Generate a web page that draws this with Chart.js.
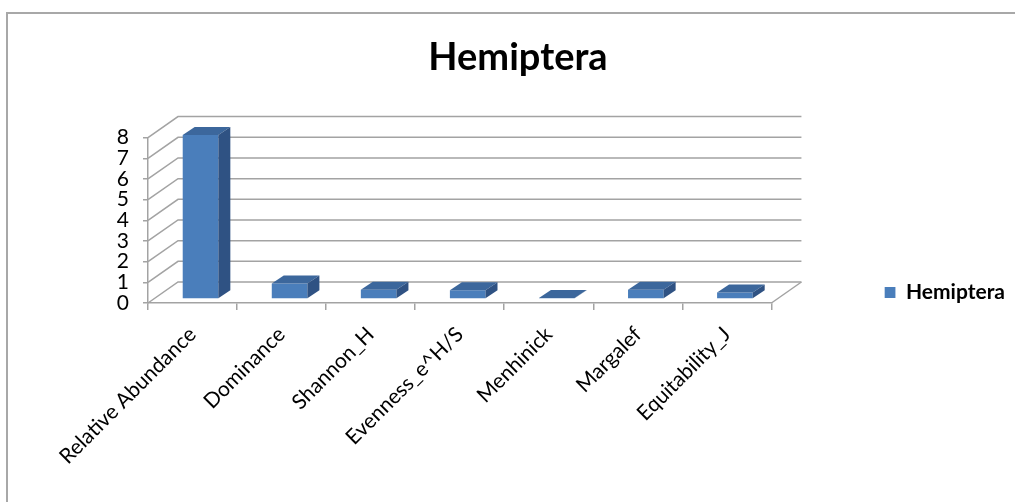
<!DOCTYPE html>
<html>
<head>
<meta charset="utf-8">
<script src="https://cdn.jsdelivr.net/npm/chart.js@4.4.1/dist/chart.umd.min.js"></script>
<style>
    html, body { margin: 0; padding: 0; background: #fff; }
    #wrap { width: 1015px; height: 502px; }
</style>
</head>
<body>
<div id="wrap"><canvas id="chart" width="1015" height="502"></canvas></div>
<script>
// ========================================
// DADOS
// ========================================
const categories = ['Relative Abundance', 'Dominance', 'Shannon_H', 'Evenness_e^H/S', 'Menhinick', 'Margalef', 'Equitability_J'];
const hemipteraValues = [7.93, 0.75, 0.45, 0.42, 0.05, 0.45, 0.32];
const yTicks = [0, 1, 2, 3, 4, 5, 6, 7, 8];
const seriesName = 'Hemiptera';

// Cores (estilo Excel 2007)
const frontColor = '#4a7ebb';
const topColor = '#3c679c';
const sideColor = '#2f5283';
const gridColor = '#a3a3a3';

// Profundidade do "3D"
const DEPTH = { x: 30, y: -21 };
const BAR_SHIFT = { x: 8, y: -4 };
const BAR_DEPTH = { x: 12, y: -8 };

const FONT = 'Lato, "Open Sans", sans-serif';

// Plugin: fundo, paredes e faces laterais das barras
const wall3d = {
    id: 'wall3d',
    beforeDraw(chart) {
        const { ctx, width, height } = chart;
        ctx.save();
        ctx.fillStyle = '#fff';
        ctx.fillRect(0, 0, width, height);
        // borda da área do gráfico
        ctx.strokeStyle = '#a8a8a8';
        ctx.lineWidth = 2;
        ctx.beginPath();
        ctx.moveTo(7, height);
        ctx.lineTo(7, 13);
        ctx.lineTo(width, 13);
        ctx.stroke();
        ctx.restore();
    },
    beforeDatasetsDraw(chart) {
        const { ctx, chartArea: a, scales: { y } } = chart;
        ctx.save();
        ctx.strokeStyle = gridColor;
        ctx.lineWidth = 1.5;
        // parede lateral + parede do fundo
        y.ticks.forEach(t => {
            const py = y.getPixelForValue(t.value);
            ctx.beginPath();
            ctx.moveTo(a.left, py);
            ctx.lineTo(a.left + DEPTH.x, py + DEPTH.y);
            ctx.lineTo(a.right + DEPTH.x, py + DEPTH.y);
            ctx.stroke();
        });
        // borda direita do piso
        const p0 = y.getPixelForValue(0);
        ctx.beginPath();
        ctx.moveTo(a.right, p0);
        ctx.lineTo(a.right + DEPTH.x, p0 + DEPTH.y);
        ctx.stroke();
        ctx.restore();

        // barras ficam no meio da profundidade
        ctx.save();
        ctx.translate(BAR_SHIFT.x, BAR_SHIFT.y);
    },
    afterDatasetsDraw(chart) {
        const { ctx } = chart;
        const meta = chart.getDatasetMeta(0);
        meta.data.forEach(bar => {
            const { x, y, base, width } = bar.getProps(['x', 'y', 'base', 'width'], true);
            const l = x - width / 2;
            const r = x + width / 2;
            // topo
            ctx.fillStyle = topColor;
            ctx.beginPath();
            ctx.moveTo(l, y);
            ctx.lineTo(l + BAR_DEPTH.x, y + BAR_DEPTH.y);
            ctx.lineTo(r + BAR_DEPTH.x, y + BAR_DEPTH.y);
            ctx.lineTo(r, y);
            ctx.closePath();
            ctx.fill();
            // lateral
            ctx.fillStyle = sideColor;
            ctx.beginPath();
            ctx.moveTo(r, y);
            ctx.lineTo(r + BAR_DEPTH.x, y + BAR_DEPTH.y);
            ctx.lineTo(r + BAR_DEPTH.x, base + BAR_DEPTH.y);
            ctx.lineTo(r, base);
            ctx.closePath();
            ctx.fill();
        });
        ctx.restore();
    }
};

const ctx = document.getElementById('chart');
new Chart(ctx, {
    type: 'bar',
    data: {
        labels: categories,
        datasets: [{
            label: seriesName,
            data: hemipteraValues,
            backgroundColor: frontColor,
            borderWidth: 0,
            barPercentage: 0.4,
            categoryPercentage: 1
        }]
    },
    options: {
        responsive: false,
        animation: false,
        layout: { padding: { left: 21, right: 0, top: 0, bottom: 0 } },
        plugins: {
            title: {
                display: true,
                text: seriesName,
                color: '#000',
                font: { family: FONT, size: 38, weight: 'bold' },
                padding: { top: 35, bottom: 57 }
            },
            legend: {
                position: 'right',
                align: 'end',
                fullSize: false,
                labels: {
                    color: '#000',
                    boxWidth: 11,
                    boxHeight: 11,
                    padding: 0,
                    font: { family: FONT, size: 21, weight: 'bold', lineHeight: 1 }
                }
            },
            tooltip: { enabled: false }
        },
        scales: {
            x: {
                offset: true,
                grid: { display: true, drawOnChartArea: false, tickLength: 7, color: gridColor, lineWidth: 1.5, offset: true },
                border: { display: true, color: gridColor, width: 1.5 },
                ticks: {
                    color: '#000',
                    minRotation: 45,
                    maxRotation: 45,
                    autoSkip: false,
                    padding: 12,
                    font: { family: FONT, size: 21 }
                },
                afterFit(s) { s.height = 199; }
            },
            y: {
                min: yTicks[0],
                max: yTicks[yTicks.length - 1],
                ticks: {
                    stepSize: 1,
                    autoSkip: false,
                    color: '#000',
                    padding: 14,
                    font: { family: FONT, size: 21, lineHeight: 1 }
                },
                grid: { display: true, drawOnChartArea: false, tickLength: 5, color: gridColor, lineWidth: 1.5 },
                border: { display: true, color: gridColor, width: 1.5 },
                afterFit(s) { s.width = 127; }
            },
            // espaço entre o gráfico e a legenda
            gap: {
                type: 'linear',
                position: 'right',
                display: true,
                grid: { display: false },
                border: { display: false },
                ticks: { display: false },
                afterFit(s) { s.width = 113; }
            }
        }
    },
    plugins: [wall3d]
});
</script>
</body>
</html>
